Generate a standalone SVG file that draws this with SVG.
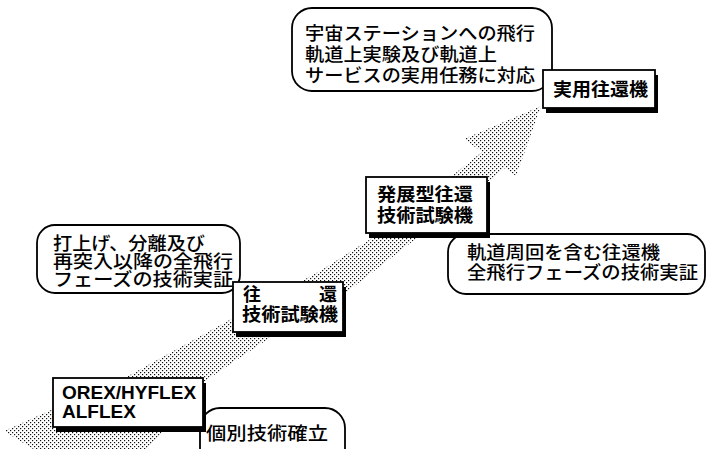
<svg xmlns="http://www.w3.org/2000/svg" width="708" height="449" viewBox="0 0 708 449">
<style>
.box{fill:#fff;stroke:#000;stroke-width:1.8}
.shadow{fill:#000}
.callout{fill:#fff;stroke:#000;stroke-width:1.8}
.jp{font-family:"Noto Sans CJK JP","Noto Sans CJK SC",sans-serif;font-size:18px;fill:#000}
.jb{font-weight:700}
.jm{font-weight:500}
.en{font-family:"Liberation Sans",Arial,sans-serif;font-weight:700;font-size:19px;fill:#000}
</style>
<defs>
<pattern id="dots" width="4" height="4" patternUnits="userSpaceOnUse">
<rect x="0" y="0" width="1.2" height="1.2" fill="#111"/>
<rect x="2" y="2" width="1.2" height="1.2" fill="#111"/>
</pattern>
</defs>
<rect width="708" height="449" fill="#fff"/>
<g id="connectors">
<polygon fill="url(#dots)" points="4,431 130,375 235,317 320,271 380,233 482,152 464,139 541,106 516,176 505,168 413,241 348,291 262,343 205,381 145,452 38,452"/>
</g>
<g id="callout-top">
<rect class="callout" x="292" y="8" width="260" height="83" rx="20"/>
<text class="jp jm"><tspan x="305" y="40" textLength="230" lengthAdjust="spacingAndGlyphs">宇宙ステーションへの飛行</tspan><tspan x="305" y="61" textLength="192" lengthAdjust="spacingAndGlyphs">軌道上実験及び軌道上</tspan><tspan x="305" y="82" textLength="230" lengthAdjust="spacingAndGlyphs">サービスの実用任務に対応</tspan></text>
</g>
<g id="box-practical">
<rect class="shadow" x="546" y="75" width="112" height="38"/>
<rect class="box" x="543" y="70" width="112" height="38"/>
<text class="jp jb" x="553" y="96" textLength="95" lengthAdjust="spacingAndGlyphs">実用往還機</text>
</g>
<g id="callout-orbit">
<rect class="callout" x="448" y="234" width="257" height="60" rx="18"/>
<text class="jp jm"><tspan x="467" y="259" textLength="193" lengthAdjust="spacingAndGlyphs">軌道周回を含む往還機</tspan><tspan x="467" y="279" textLength="231" lengthAdjust="spacingAndGlyphs">全飛行フェーズの技術実証</tspan></text>
</g>
<g id="box-advanced">
<rect class="shadow" x="369" y="182" width="121" height="56"/>
<rect class="box" x="366" y="177" width="121" height="56"/>
<text class="jp jb"><tspan x="377" y="201" textLength="96" lengthAdjust="spacingAndGlyphs">発展型往還</tspan><tspan x="377" y="222" textLength="96" lengthAdjust="spacingAndGlyphs">技術試験機</tspan></text>
</g>
<g id="callout-launch">
<rect class="callout" x="37" y="225" width="203" height="68" rx="18"/>
<text class="jp jm"><tspan x="53" y="250" textLength="152" lengthAdjust="spacingAndGlyphs">打上げ、分離及び</tspan><tspan x="53" y="268" textLength="180" lengthAdjust="spacingAndGlyphs">再突入以降の全飛行</tspan><tspan x="53" y="286" textLength="180" lengthAdjust="spacingAndGlyphs">フェーズの技術実証</tspan></text>
</g>
<g id="box-return">
<rect class="shadow" x="236" y="287" width="110" height="50"/>
<rect class="box" x="233" y="282" width="110" height="50"/>
<text class="jp jb"><tspan x="243" y="301">往</tspan><tspan x="319" y="301">還</tspan><tspan x="242" y="321" textLength="96" lengthAdjust="spacingAndGlyphs">技術試験機</tspan></text>
</g>
<g id="callout-individual">
<rect class="callout" x="200" y="408" width="145" height="60" rx="20"/>
<text class="jp jm" x="206" y="440" textLength="122" lengthAdjust="spacingAndGlyphs">個別技術確立</text>
</g>
<g id="box-orex">
<rect class="shadow" x="56" y="383" width="150" height="49"/>
<rect class="box" x="53" y="378" width="150" height="49"/>
<text class="en"><tspan x="62" y="399">OREX/HYFLEX</tspan><tspan x="62" y="418">ALFLEX</tspan></text>
</g>
</svg>
